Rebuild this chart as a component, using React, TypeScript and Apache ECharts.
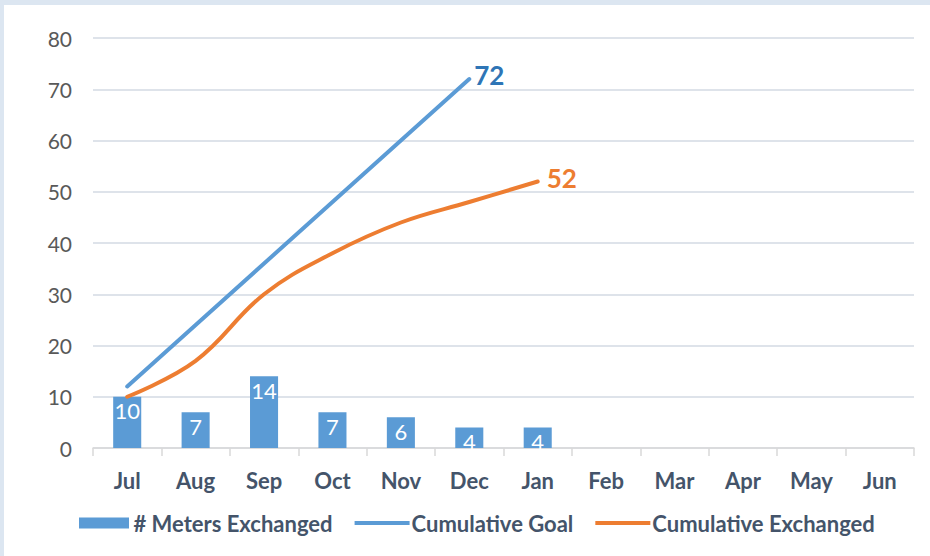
import React, { useEffect, useRef } from "react";
import * as echarts from "echarts";

const months = ["Jul", "Aug", "Sep", "Oct", "Nov", "Dec", "Jan", "Feb", "Mar", "Apr", "May", "Jun"];
const metersExchanged = [10, 7, 14, 7, 6, 4, 4, null, null, null, null, null];
const cumulativeGoal = [12, 24, 36, 48, 60, 72, null, null, null, null, null, null];
const cumulativeExchanged = [10, 17, 30, 38, 44, 48, 52, null, null, null, null, null];
const yTicks = { min: 0, max: 80, interval: 10 };

const FONT = "Lato, 'Open Sans', sans-serif";
const BAR_ICON = "path://M0,0 H50 V11 H0 Z";
const LINE_ICON = "path://M0,0 H55 V4 H0 Z";

export default function App() {
  const ref = useRef<HTMLDivElement>(null);
  useEffect(() => {
    if (!ref.current) return;
    const chart = echarts.init(ref.current, undefined, { renderer: "svg" });
    chart.setOption({
      animation: false,
      backgroundColor: "#ffffff",
      textStyle: { fontFamily: FONT },
      grid: { left: 89, right: 16, top: 33, bottom: 108, containLabel: false },
      legend: {
        top: 502,
        left: 70,
        itemGap: 22,
        itemWidth: 55,
        itemHeight: 11,
        symbolKeepAspect: true,
        textStyle: { fontFamily: FONT, fontSize: 22, fontWeight: "bold", color: "#44546A", padding: [0, 0, 0, -3] },
        data: [
          { name: "# Meters Exchanged", icon: BAR_ICON, itemStyle: { color: "#5B9BD5" } },
          { name: "Cumulative Goal", icon: LINE_ICON, itemStyle: { color: "#5B9BD5", borderWidth: 0 } },
          { name: "Cumulative Exchanged", icon: LINE_ICON, itemStyle: { color: "#ED7D31", borderWidth: 0 } },
        ],
      },
      xAxis: {
        type: "category",
        data: months,
        boundaryGap: true,
        axisLine: { lineStyle: { color: "#D9D9D9", width: 1.5 } },
        axisTick: { show: true, length: 8, interval: 0, lineStyle: { color: "#D9D9D9", width: 1.5 } },
        axisLabel: { margin: 21, fontFamily: FONT, fontSize: 22, fontWeight: "bold", color: "#44546A" },
        splitLine: { show: false },
      },
      yAxis: {
        type: "value",
        min: yTicks.min,
        max: yTicks.max,
        interval: yTicks.interval,
        axisLine: { show: false },
        axisTick: { show: false },
        axisLabel: { margin: 21, fontFamily: FONT, fontSize: 21, color: "#595959" },
        splitLine: { lineStyle: { color: "#DEE3EA", width: 2 } },
      },
      series: [
        {
          name: "# Meters Exchanged",
          type: "bar",
          data: metersExchanged,
          barWidth: "41%",
          itemStyle: { color: "#5B9BD5" },
          label: {
            show: true,
            position: "insideTop",
            distance: 3,
            color: "#ffffff",
            fontFamily: FONT,
            fontSize: 22,
          },
        },
        {
          name: "Cumulative Goal",
          type: "line",
          data: cumulativeGoal,
          symbol: "none",
          lineStyle: { color: "#5B9BD5", width: 4, cap: "round" },
          itemStyle: { color: "#5B9BD5" },
          endLabel: {
            show: true,
            formatter: "{c}",
            color: "#2E75B6",
            fontFamily: FONT,
            fontSize: 26,
            fontWeight: "bold",
            distance: 5,
            offset: [0, -4],
          },
        },
        {
          name: "Cumulative Exchanged",
          type: "line",
          data: cumulativeExchanged,
          symbol: "none",
          smooth: 0.4,
          lineStyle: { color: "#ED7D31", width: 4, cap: "round" },
          itemStyle: { color: "#ED7D31" },
          endLabel: {
            show: true,
            formatter: "{c}",
            color: "#ED7D31",
            fontFamily: FONT,
            fontSize: 26,
            fontWeight: "bold",
            distance: 9,
            offset: [0, -4],
          },
        },
      ],
    });
    return () => chart.dispose();
  }, []);

  return (
    <div
      style={{
        position: "absolute",
        left: 0,
        top: 0,
        width: 930,
        height: 556,
        background: "#DCE6F1",
        overflow: "hidden",
      }}
    >
      <div
        ref={ref}
        style={{ position: "absolute", left: 4, top: 5, width: 926, height: 551, background: "#ffffff" }}
      />
    </div>
  );
}
